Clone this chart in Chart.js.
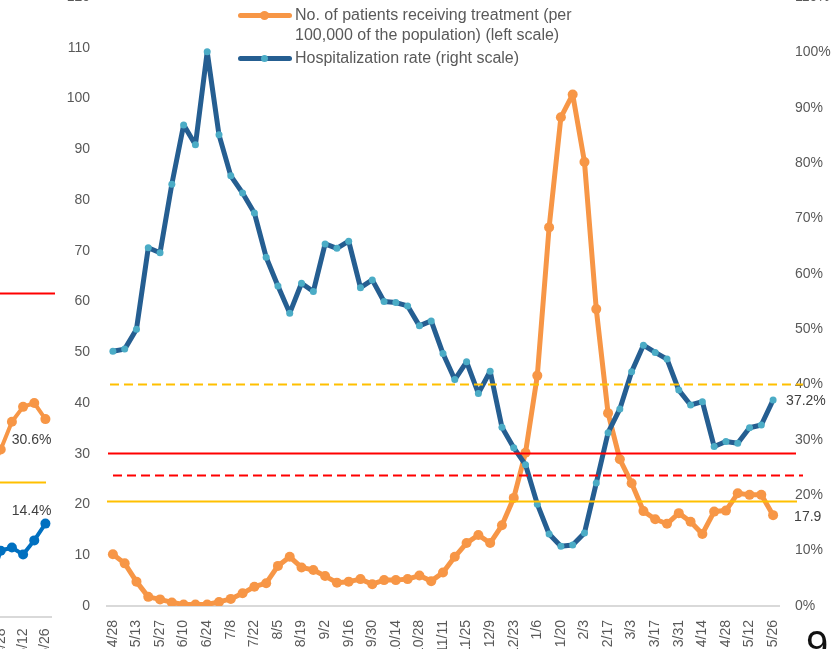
<!DOCTYPE html>
<html lang="en">
<head>
  <meta charset="UTF-8" />
  <title>Patients receiving treatment and hospitalization rate</title>
  <script src="https://cdn.jsdelivr.net/npm/chart.js"></script>
  <style>
    html, body {
      margin: 0;
      padding: 0;
      width: 833px;
      height: 649px;
      overflow: hidden;
      background: #fff;
      font-family: "Liberation Sans", Arial, sans-serif;
    }
    #main { position: absolute; left: 0; top: -30px; }
    #side { position: absolute; left: -36px; top: 0; }
    .legend {
      position: absolute;
      left: 238px;
      top: 5px;
      color: #595959;
      font-size: 16px;
      line-height: 20px;
    }
    .item { position: relative; padding-left: 57px; margin-bottom: 3px; white-space: nowrap; }
    .swatch { position: absolute; left: 0; top: 7.5px; width: 54px; height: 5px; border-radius: 3px; }
    .dot { position: absolute; border-radius: 50%; }
    #pageNo {
      position: absolute;
      left: 806px;
      top: 625px;
      font-size: 40px;
      line-height: 40px;
      color: #111;
    }
  </style>
</head>
<body>
  <canvas id="side" width="117" height="680"></canvas>
  <canvas id="main" width="833" height="700"></canvas>

  <div class="legend">
    <div class="item">
      <span class="swatch" style="background:#F79646"></span>
      <span class="dot" style="left:21.5px;top:5.5px;width:9px;height:9px;background:#F79646"></span>
      No. of patients receiving treatment (per<br>100,000 of the population) (left scale)
    </div>
    <div class="item">
      <span class="swatch" style="background:#255E91"></span>
      <span class="dot" style="left:22.5px;top:6.5px;width:7px;height:7px;background:#4BACC6"></span>
      Hospitalization rate (right scale)
    </div>
  </div>
  <div id="pageNo">9</div>

  <script>
    // weekly dates, only every second one is labelled
    const weeks = ["4/28", "5/6", "5/13", "5/20", "5/27", "6/3", "6/10", "6/17", "6/24", "7/1",
      "7/8", "7/15", "7/22", "7/29", "8/5", "8/12", "8/19", "8/26", "9/2", "9/9",
      "9/16", "9/23", "9/30", "10/7", "10/14", "10/21", "10/28", "11/4", "11/11", "11/18",
      "11/25", "12/2", "12/9", "12/16", "12/23", "12/30", "1/6", "1/13", "1/20", "1/27",
      "2/3", "2/10", "2/17", "2/24", "3/3", "3/10", "3/17", "3/24", "3/31", "4/7",
      "4/14", "4/21", "4/28", "5/5", "5/12", "5/19", "5/26"];

    // patients receiving treatment per 100,000 (left scale)
    const treated = [10.2, 8.4, 4.8, 1.8, 1.3, 0.7, 0.3, 0.3, 0.3, 0.8,
      1.4, 2.5, 3.8, 4.5, 7.9, 9.7, 7.6, 7.1, 5.9, 4.6,
      4.8, 5.3, 4.3, 5.1, 5.1, 5.3, 6.0, 4.9, 6.6, 9.7,
      12.4, 14.0, 12.4, 15.9, 21.3, 30.2, 45.4, 74.6, 96.3, 100.8,
      87.5, 58.5, 38.0, 28.9, 24.2, 18.7, 17.1, 16.2, 18.3, 16.6,
      14.2, 18.6, 18.8, 22.2, 21.9, 21.9, 17.9];

    // hospitalization rate in % (right scale)
    const hospRate = [46.0, 46.4, 50.0, 64.7, 63.8, 76.2, 86.9, 83.3, 100.1, 85.1,
      77.7, 74.6, 71.0, 63.0, 57.8, 52.9, 58.3, 56.8, 65.4, 64.6,
      65.9, 57.5, 58.9, 55.0, 54.8, 54.2, 50.6, 51.5, 45.6, 40.9,
      44.1, 38.4, 42.4, 32.3, 28.6, 25.5, 18.4, 13.0, 10.8, 11.0,
      13.2, 22.2, 31.3, 35.6, 42.3, 47.1, 45.8, 44.6, 39.0, 36.3,
      36.9, 28.8, 29.7, 29.4, 32.2, 32.7, 37.2];

    // horizontal reference levels, left scale: yellow dashed, red, red dashed, yellow
    const refLevels = [43.7, 30.2, 25.9, 20.6];

    // neighbouring chart, only its right edge is in the picture
    const sideWeeks = ["4/21", "4/28", "5/5", "5/12", "5/19", "5/26"];
    const sideOrange = [22.2, 25.9, 30.2, 32.5, 33.1, 30.6];
    const sideBlue = [5.0, 10.2, 10.7, 9.6, 11.8, 14.4];
    const sideLevels = [50.1, 20.8];

    Chart.defaults.font.family = '"Liberation Sans", Arial, sans-serif';
    Chart.defaults.font.size = 14;
    Chart.defaults.color = "#595959";

    // draws level lines (they run past the plot on the right) and end-point labels
    const extras = {
      id: "extras",
      afterDatasetsDraw(chart, args, opts) {
        const ctx = chart.ctx;
        const area = chart.chartArea;
        const ys = chart.scales[opts.axis];
        ctx.save();
        opts.lines.forEach(l => {
          const y = Math.round(ys.getPixelForValue(l.value)) + 0.5;
          ctx.beginPath();
          ctx.strokeStyle = l.color;
          ctx.lineWidth = 2;
          ctx.setLineDash(l.dash || []);
          ctx.moveTo(area.left + l.from, y);
          ctx.lineTo(area.right + l.to, y);
          ctx.stroke();
        });
        ctx.setLineDash([]);
        ctx.fillStyle = "#404040";
        ctx.font = '14px "Liberation Sans", Arial, sans-serif';
        ctx.textBaseline = "middle";
        opts.labels.forEach(lb => {
          const pts = chart.getDatasetMeta(lb.dataset).data;
          const pt = pts[pts.length - 1];
          ctx.textAlign = lb.align;
          ctx.fillText(lb.text, pt.x + lb.dx, pt.y + lb.dy);
        });
        ctx.restore();
      }
    };

    const noGrid = { display: false, drawTicks: false };

    new Chart(document.getElementById("main"), {
      type: "line",
      data: {
        labels: weeks,
        datasets: [
          {
            label: "Hospitalization rate (right scale)",
            data: hospRate,
            yAxisID: "y1",
            borderColor: "#255E91",
            borderWidth: 5,
            borderJoinStyle: "round",
            borderCapStyle: "round",
            pointRadius: 3.5,
            pointBorderWidth: 0,
            pointBackgroundColor: "#4BACC6",
            order: 0
          },
          {
            label: "No. of patients receiving treatment (per 100,000 of the population) (left scale)",
            data: treated,
            yAxisID: "y",
            borderColor: "#F79646",
            borderWidth: 5,
            borderJoinStyle: "round",
            borderCapStyle: "round",
            pointRadius: 5,
            pointBorderWidth: 0,
            pointBackgroundColor: "#F79646",
            order: 1
          }
        ]
      },
      options: {
        responsive: false,
        animation: false,
        devicePixelRatio: 1,
        layout: { padding: { top: 27, left: 0, right: 0, bottom: 0 } },
        plugins: {
          legend: { display: false },
          tooltip: { enabled: false },
          extras: {
            axis: "y",
            lines: [
              { value: refLevels[0], color: "#FFC000", dash: [9, 5], from: 3, to: 24 },
              { value: refLevels[1], color: "#FF0000", from: 1, to: 17 },
              { value: refLevels[2], color: "#FF0000", dash: [9, 5], from: 6, to: 24 },
              { value: refLevels[3], color: "#FFC000", from: 0, to: 18 }
            ],
            labels: [
              { dataset: 0, text: hospRate[hospRate.length - 1].toFixed(1) + "%", dx: 13, dy: 1.5, align: "left" },
              { dataset: 1, text: treated[treated.length - 1].toFixed(1), dx: 21, dy: 2, align: "left" }
            ]
          }
        },
        scales: {
          x: {
            offset: true,
            grid: noGrid,
            border: { display: true, color: "#d9d9d9", width: 2 },
            ticks: {
              autoSkip: false,
              minRotation: 90,
              maxRotation: 90,
              padding: 14,
              callback: (v, i) => (i % 2 === 0 ? weeks[i] : "")
            },
            afterFit: s => { s.height = 64; }
          },
          y: {
            position: "left",
            min: 0,
            max: 120,
            grid: noGrid,
            border: { display: false },
            ticks: { stepSize: 10, padding: 17 },
            afterFit: s => { s.width = 107; }
          },
          y1: {
            position: "right",
            min: 0,
            max: 110,
            grid: noGrid,
            border: { display: false },
            ticks: { stepSize: 10, padding: 16, callback: v => v + "%" },
            afterFit: s => { s.width = 54; }
          }
        }
      },
      plugins: [extras]
    });

    new Chart(document.getElementById("side"), {
      type: "line",
      data: {
        labels: sideWeeks,
        datasets: [
          {
            data: sideBlue,
            borderColor: "#0070C0",
            borderWidth: 4,
            pointRadius: 5,
            pointBorderWidth: 0,
            pointBackgroundColor: "#0070C0"
          },
          {
            data: sideOrange,
            borderColor: "#F79646",
            borderWidth: 4,
            pointRadius: 5,
            pointBorderWidth: 0,
            pointBackgroundColor: "#F79646"
          }
        ]
      },
      options: {
        responsive: false,
        animation: false,
        devicePixelRatio: 1,
        layout: { padding: 0 },
        plugins: {
          legend: { display: false },
          tooltip: { enabled: false },
          extras: {
            axis: "y",
            lines: [
              { value: sideLevels[0], color: "#FF0000", from: 0, to: 4 },
              { value: sideLevels[1], color: "#FFC000", from: 0, to: -5 }
            ],
            labels: [
              { dataset: 1, text: sideOrange[sideOrange.length - 1].toFixed(1) + "%", dx: 6, dy: 21, align: "right" },
              { dataset: 0, text: sideBlue[sideBlue.length - 1].toFixed(1) + "%", dx: 6, dy: -12, align: "right" }
            ]
          }
        },
        scales: {
          x: {
            offset: true,
            grid: noGrid,
            border: { display: true, color: "#d9d9d9", width: 2 },
            ticks: {
              autoSkip: false,
              minRotation: 90,
              maxRotation: 90,
              padding: 12,
              callback: (v, i) => (i % 2 === 1 ? sideWeeks[i] : "")
            },
            afterFit: s => { s.height = 63.5; }
          },
          y: {
            position: "left",
            min: 0,
            max: 94.8,
            grid: noGrid,
            border: { display: false },
            ticks: { display: false },
            afterFit: s => { s.width = 20; }
          },
          yr: {
            position: "right",
            min: 0,
            max: 1,
            grid: noGrid,
            border: { display: false },
            ticks: { display: false },
            afterFit: s => { s.width = 30; }
          }
        }
      },
      plugins: [extras]
    });
  </script>
</body>
</html>
